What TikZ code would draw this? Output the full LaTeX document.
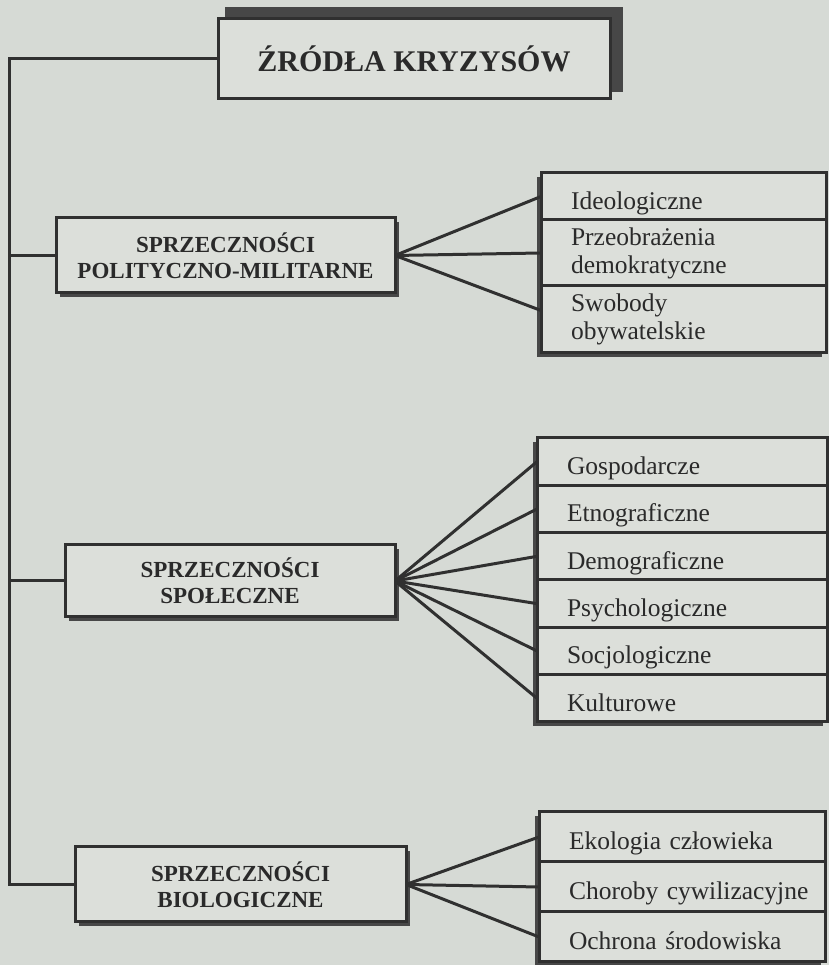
\documentclass[tikz,border=0pt]{standalone}
\usepackage{fontspec}
\setmainfont{Liberation Serif}
\usetikzlibrary{backgrounds,calc,positioning}
\definecolor{paper}{HTML}{D6DAD5}
\definecolor{boxfill}{HTML}{DCDFDA}
\definecolor{ink}{HTML}{303030}
\definecolor{txt}{HTML}{2A2A2A}
\definecolor{shadowc}{HTML}{474747}
\begin{document}
\begin{tikzpicture}[x=1pt,y=1pt,
  every node/.style={outer sep=0pt, text=txt},
  titlebox/.style={draw=ink, line width=3pt, fill=boxfill, align=center,
    font=\fontsize{30}{34}\selectfont\bfseries, inner sep=0pt},
  headbox/.style={draw=ink, line width=3pt, fill=boxfill, align=center,
    font=\fontsize{23}{26}\selectfont\bfseries, inner sep=0pt},
  itembox/.style={draw=ink, line width=3pt, fill=boxfill, align=left,
    inner xsep=16pt, inner ysep=0pt, font=\fontsize{25.5}{28}\selectfont, anchor=north,
    execute at begin node={\leftskip=14pt\relax\hyphenpenalty=10000\relax}},
  oneline/.style={text height=26pt, text depth=0pt},
  link/.style={draw=ink, line width=3pt}]
\useasboundingbox (0,0) rectangle (829,965);
\begin{scope}[on background layer]
  \fill[paper] (0,0) rectangle (829,965);
\end{scope}

% main nodes
\node[titlebox, minimum width=392pt, minimum height=80pt] (src) at (414,906) {ŹRÓDŁA KRYZYSÓW};
\node[headbox, minimum width=339pt, minimum height=75pt] (pm) at (225.5,709.5) {SPRZECZNOŚCI\\POLITYCZNO-MILITARNE};
\node[headbox, minimum width=330pt, minimum height=72pt] (sp) at (230,384) {SPRZECZNOŚCI\\SPOŁECZNE};
\node[headbox, minimum width=331pt, minimum height=75pt] (bio) at (240.5,80.5) {SPRZECZNOŚCI\\BIOLOGICZNE};

% group 1
\node[itembox, oneline, text width=253pt, minimum height=47pt] (ideo) at (683.5,792) {Ideologiczne};
\node[itembox, text width=253pt, minimum height=66pt, below=0pt of ideo] (prze) {Przeobrażenia\\demokratyczne};
\node[itembox, text width=253pt, minimum height=67pt, below=0pt of prze] (swob) {Swobody\\obywatelskie};

% group 2
\node[itembox, oneline, text width=258pt, minimum height=47.33pt] (g1) at (682,527) {Gospodarcze};
\node[itembox, oneline, text width=258pt, minimum height=47.33pt, below=0pt of g1] (g2) {Etnograficzne};
\node[itembox, oneline, text width=258pt, minimum height=47.33pt, below=0pt of g2] (g3) {Demograficzne};
\node[itembox, oneline, text width=258pt, minimum height=47.33pt, below=0pt of g3] (g4) {Psychologiczne};
\node[itembox, oneline, text width=258pt, minimum height=47.33pt, below=0pt of g4] (g5) {Socjologiczne};
\node[itembox, oneline, text width=258pt, minimum height=47.33pt, below=0pt of g5] (g6) {Kulturowe};

% group 3
\node[itembox, oneline, text width=254pt, minimum height=50pt] (eko) at (682,153) {Ekologia człowieka};
\node[itembox, oneline, text width=254pt, minimum height=50pt, below=0pt of eko] (chor) {Choroby cywilizacyjne};
\node[itembox, oneline, text width=254pt, minimum height=50pt, below=0pt of chor] (ochr) {Ochrona środowiska};

% shadows
\begin{scope}[on background layer]
  \fill[shadowc] ($(src.south west)+(7,7)$) rectangle ($(src.north east)+(13,12)$);
  \foreach \n in {pm,sp,bio}
    \fill[shadowc] ($(\n.south west)+(4,-4)$) rectangle ($(\n.north east)+(4,-4)$);
  \fill[shadowc] ($(ideo.north west)+(-4,-4)$) rectangle ($(swob.south east)+(-4,-4)$);
  \fill[shadowc] ($(g1.north west)+(-4,-4)$) rectangle ($(g6.south east)+(-4,-4)$);
  \fill[shadowc] ($(eko.north west)+(-4,-4)$) rectangle ($(ochr.south east)+(-4,-4)$);
\end{scope}

% connectors
\coordinate (spine) at (9,0);
\draw[link] (src.west) -- (src.west -| spine) -- (bio.west -| spine) -- (bio.west);
\draw[link] (pm.west) -- (pm.west -| spine);
\draw[link] (sp.west) -- (sp.west -| spine);

\draw[link] (pm.east) -- (ideo.west);
\draw[link] (pm.east) -- (prze.west);
\draw[link] (pm.east) -- ([yshift=9pt]swob.west);
\foreach \t in {g1,g2,g3,g4,g5,g6}
  \draw[link] (sp.east) -- (\t.west);
\foreach \t in {eko,chor,ochr}
  \draw[link] (bio.east) -- (\t.west);
\end{tikzpicture}
\end{document}
